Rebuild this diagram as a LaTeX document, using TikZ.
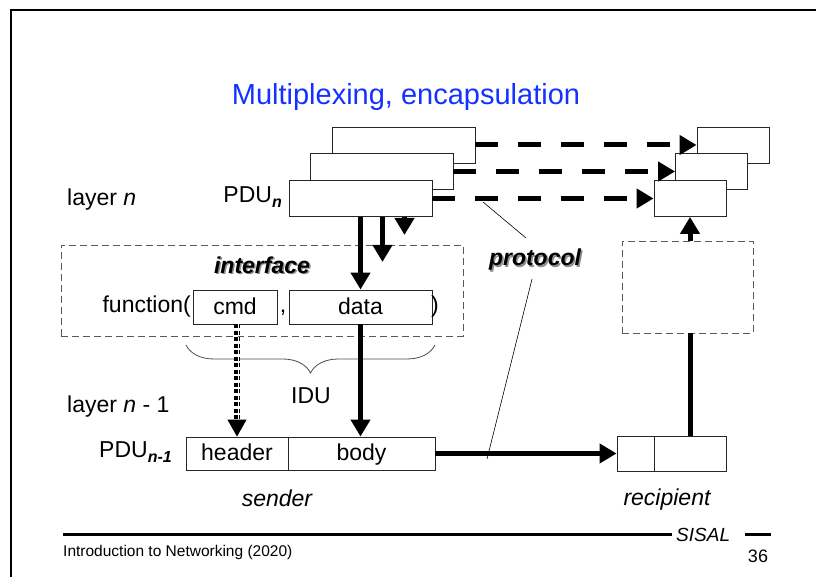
\documentclass[tikz,border=0pt]{standalone}
\usepackage{fontspec}
\setmainfont{Liberation Sans}
\usetikzlibrary{arrows.meta,decorations.pathreplacing}
\definecolor{titleblue}{RGB}{20,50,255}
\newcommand{\pdusub}[1]{\raisebox{-5pt}{\fontsize{16}{16}\selectfont\bfseries\itshape #1}}

\begin{document}
\begin{tikzpicture}[x=1pt, y=1pt,
    every node/.style={font=\fontsize{23}{27}\selectfont, inner sep=0pt},
    pdubox/.style={draw=black!85, line width=0.9pt, fill=white, minimum height=36pt,
        text height=18pt, text depth=3pt},
    ifbox/.style={draw=black!65, line width=0.8pt, dash pattern=on 7pt off 4pt},
    bigarrow/.style={line width=5pt, -{Triangle[length=17pt,width=19pt]}},
    protoarrow/.style={bigarrow, dash pattern=on 23pt off 20pt},
    cmdline/.style={line width=1.8pt, dash pattern=on 4pt off 2.5pt,
        preaction={draw, dash pattern=on 4pt off 2.5pt, double=white, double distance=3pt}},
    boldlabel/.style={font=\fontsize{23}{27}\selectfont\bfseries\itshape}]
\useasboundingbox (0,0) rectangle (816,577);
\draw[line width=2pt] (11,0) -- (11,567) -- (816,567);

\node[font=\fontsize{29}{34}\selectfont, text=titleblue] (title) at (406,480) {Multiplexing, encapsulation};

\node[pdubox, minimum width=143pt] (s3) at (403.5,432) {};
\node[pdubox, minimum width=143pt] (s2) at (381.5,405.5) {};
\node[pdubox, minimum width=143pt] (s1) at (360.5,378.5) {};
\node[pdubox, minimum width=72pt] (r3) at (733,432) {};
\node[pdubox, minimum width=72pt] (r2) at (711.5,405.5) {};
\node[pdubox, minimum width=72pt] (r1) at (690,378.5) {};

\node[anchor=west] (layern) at (67,377) {layer \textit{n}};
\node[anchor=east] (pdun) at (282,380) {PDU\pdusub{n}};

\draw[protoarrow] (s3.east) -- (r3.west);
\draw[protoarrow] (s2.east) -- (r2.west);
\draw[protoarrow] (s1.east) -- (r1.west);

\node[ifbox, minimum width=402pt, minimum height=91pt] (iface) at (262,286.5) {};
\node[boldlabel, text=black!45] (ifshadow) at (263.5,310.5) {interface};
\node[boldlabel] (iflabel) at (262,312) {interface};
\node[anchor=east] (func) at (191,270) {function(};
\node[pdubox, minimum width=84pt, minimum height=34pt] (cmd) at (235,270) {cmd};
\node[anchor=base] (comma) at (283,264) {,};
\node[pdubox, minimum width=143pt, minimum height=34pt] (data) at (360.5,270) {data};
\node[anchor=west] (rpar) at (431,270) {)};

\draw[bigarrow] (s1.south) -- (data.north);
\draw[bigarrow] ([xshift=22pt]s1.south) -- ++(0,-45);
\draw[bigarrow] ([xshift=44pt]s1.south) -- ++(0,-18);

\draw[decorate, decoration={brace, amplitude=28pt}, draw=black!70, line width=0.8pt] (435,232) -- (186,232);
\node (idu) at (311,181) {IDU};

\node[anchor=west] (layern1) at (67,170) {layer \textit{n} - 1};
\node[anchor=east] (pdun1) at (172,124.5) {PDU\pdusub{n-1}};
\node[pdubox, minimum width=102pt, minimum height=33pt] (header) at (237,123.5) {header};
\node[pdubox, minimum width=147pt, minimum height=33pt] (body) at (361.5,123.5) {body};
\node[font=\fontsize{23}{27}\selectfont\itshape] (sender) at (277,79) {sender};

\draw[white, line width=1pt, -{Triangle[length=17pt,width=19pt,color=black]}] (cmd.south -| header.north) -- (header.north);
\draw[cmdline] (cmd.south -| header.north) -- ([yshift=17pt]header.north);
\draw[bigarrow] (data.south) -- (data.south |- body.north);

\node[pdubox, minimum width=37pt, minimum height=35pt] (rh) at (635.5,123.5) {};
\node[pdubox, minimum width=72pt, minimum height=35pt] (rb) at (690,123.5) {};
\node[ifbox, minimum width=131pt, minimum height=92pt] (rif) at (687.5,290) {};
\node[font=\fontsize{23}{27}\selectfont\itshape] (recipient) at (667,77) {recipient};

\draw[bigarrow] (body.east) -- (rh.west);
\draw[line width=5pt] (rb.north) -- (rb.north |- rif.south);
\draw[bigarrow] (rb.north |- rif.north) -- (r1.south);

\node[boldlabel, text=black!45] (protshadow) at (536.5,315.5) {protocol};
\node[boldlabel] (prot) at (535,317) {protocol};
\coordinate (pa) at (526,339);
\coordinate (ptop) at (483,375);
\coordinate (pb) at (532,298);
\coordinate (pbot) at (487,118);
\draw[line width=0.6pt] (pa) -- (ptop);
\draw[line width=0.6pt] (pb) -- (pbot);

\draw[line width=3pt] (63,42) -- (672,42);
\node[font=\fontsize{19}{21}\selectfont\itshape, anchor=west] (sisal) at (676,42) {SISAL};
\draw[line width=3pt] (745,42) -- (771,42);
\node[font=\fontsize{15.5}{17}\selectfont, anchor=west] (course) at (63,25) {Introduction to Networking (2020)};
\node[font=\fontsize{18}{20}\selectfont] (page) at (758,21) {36};
\end{tikzpicture}
\end{document}
